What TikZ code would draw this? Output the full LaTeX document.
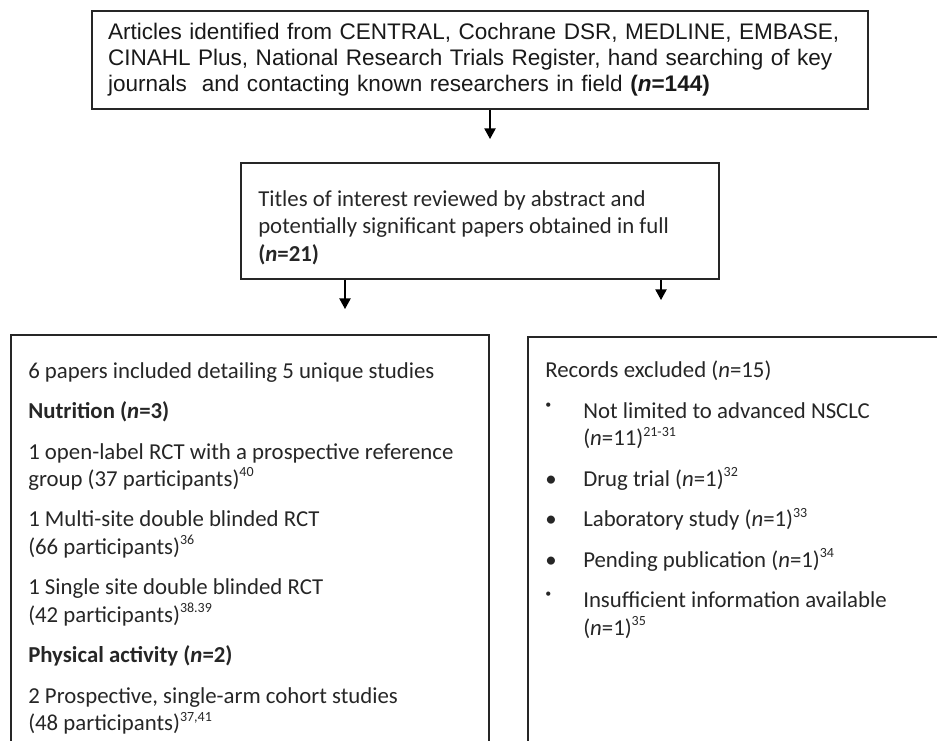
\documentclass[tikz,border=0pt]{standalone}
\usepackage{fontspec}
\setmainfont{Carlito}
\newfontfamily\arialfont{Liberation Sans}
\usetikzlibrary{arrows.meta}
\setlength{\parindent}{0pt}

\newcommand{\rf}[1]{\raisebox{0.42em}{\fontsize{10.5}{10.5}\selectfont #1}}
\newcommand{\itembul}{\makebox[28.5pt][l]{\textbullet}}
\newcommand{\itemdot}{\makebox[28.5pt][l]{\raisebox{7.5pt}{\fontsize{9}{9}\selectfont\textbullet}}}

\begin{document}
\begin{tikzpicture}[x=0.75pt,y=0.75pt,yscale=-1,xscale=1,
  box/.style={draw=black!85, line width=1.1pt, rectangle, inner sep=0pt},
  calfont/.style={font=\fontsize{17.1}{20.6}\selectfont, text=black!85},
  arr/.style={draw=black, line width=1pt, -{Triangle[length=8pt,width=8.5pt]}}]
\useasboundingbox (0,0) rectangle (937,740);
\clip (0,0) rectangle (937,740);

%Shape: Rectangle [search]
\draw (480,60) node [box, inner xsep=12pt, text width=558pt, minimum height=73.5pt, text=black!90,
  font=\arialfont\fontsize{16.9}{19.5}\selectfont] (srch)
  {Articles identified from CENTRAL, Cochrane DSR, MEDLINE, EMBASE,\linebreak
   CINAHL Plus, National Research Trials Register, hand searching of key\linebreak
   journals\ \ and contacting known researchers in field \textbf{(\textit{n}=144)}};

%Shape: Rectangle [screened]
\draw (480,221) node [box, minimum width=358.5pt, minimum height=87pt] (scr) {};
% Text Node
\draw (257,189) node [anchor=north west][inner sep=0.75pt][calfont, align=left] (scrtxt)
  {Titles of interest reviewed by abstract and\\
   potentially significant papers obtained in full\\
   \textbf{(\textit{n}=21)}};

%Shape: Rectangle [included]
\draw (250,567.5) node [box, minimum width=358.5pt, minimum height=348.75pt] (incl) {};
% Text Node
\draw (27,361) node [anchor=north west][inner sep=0.75pt][calfont, align=left] (incltxt)
  {6 papers included detailing 5 unique studies\\[9.75pt]
   \textbf{Nutrition (\textit{n}=3)}\\[9.75pt]
   1 open-label RCT with a prospective reference\\
   group (37 participants)\rf{40}\\[9.75pt]
   1 Multi-site double blinded RCT\\
   (66 participants)\rf{36}\\[9.75pt]
   1 Single site double blinded RCT\\
   (42 participants)\rf{38.39}\\[9.75pt]
   \textbf{Physical activity (\textit{n}=2)}\\[9.75pt]
   2 Prospective, single-arm cohort studies\\
   (48 participants)\rf{37,41}};

%Shape: Rectangle [excluded]
\draw (746.5,568.5) node [box, minimum width=327.75pt, minimum height=347.25pt] (excl) {};
% Text Node
\draw (544,360) node [anchor=north west][inner sep=0.75pt][calfont, align=left] (excltxt)
  {Records excluded (\textit{n}=15)\\[9.75pt]
   \itemdot Not limited to advanced NSCLC\\
   \hspace*{28.5pt}(\textit{n}=11)\rf{21-31}\\[9.75pt]
   \itembul Drug trial (\textit{n}=1)\rf{32}\\[9.75pt]
   \itembul Laboratory study (\textit{n}=1)\rf{33}\\[9.75pt]
   \itembul Pending publication (\textit{n}=1)\rf{34}\\[9.75pt]
   \itemdot Insufficient information available\\
   \hspace*{28.5pt}(\textit{n}=1)\rf{35}};

%Straight Lines
\coordinate (tipa) at (490,139);
\coordinate (tipb) at (345,309);
\coordinate (tipc) at (661,300);
\draw [arr] (srch.south -| tipa) -- (tipa);
\draw [arr] (scr.south -| tipb) -- (tipb);
\draw [arr] (scr.south -| tipc) -- (tipc);
\end{tikzpicture}
\end{document}
